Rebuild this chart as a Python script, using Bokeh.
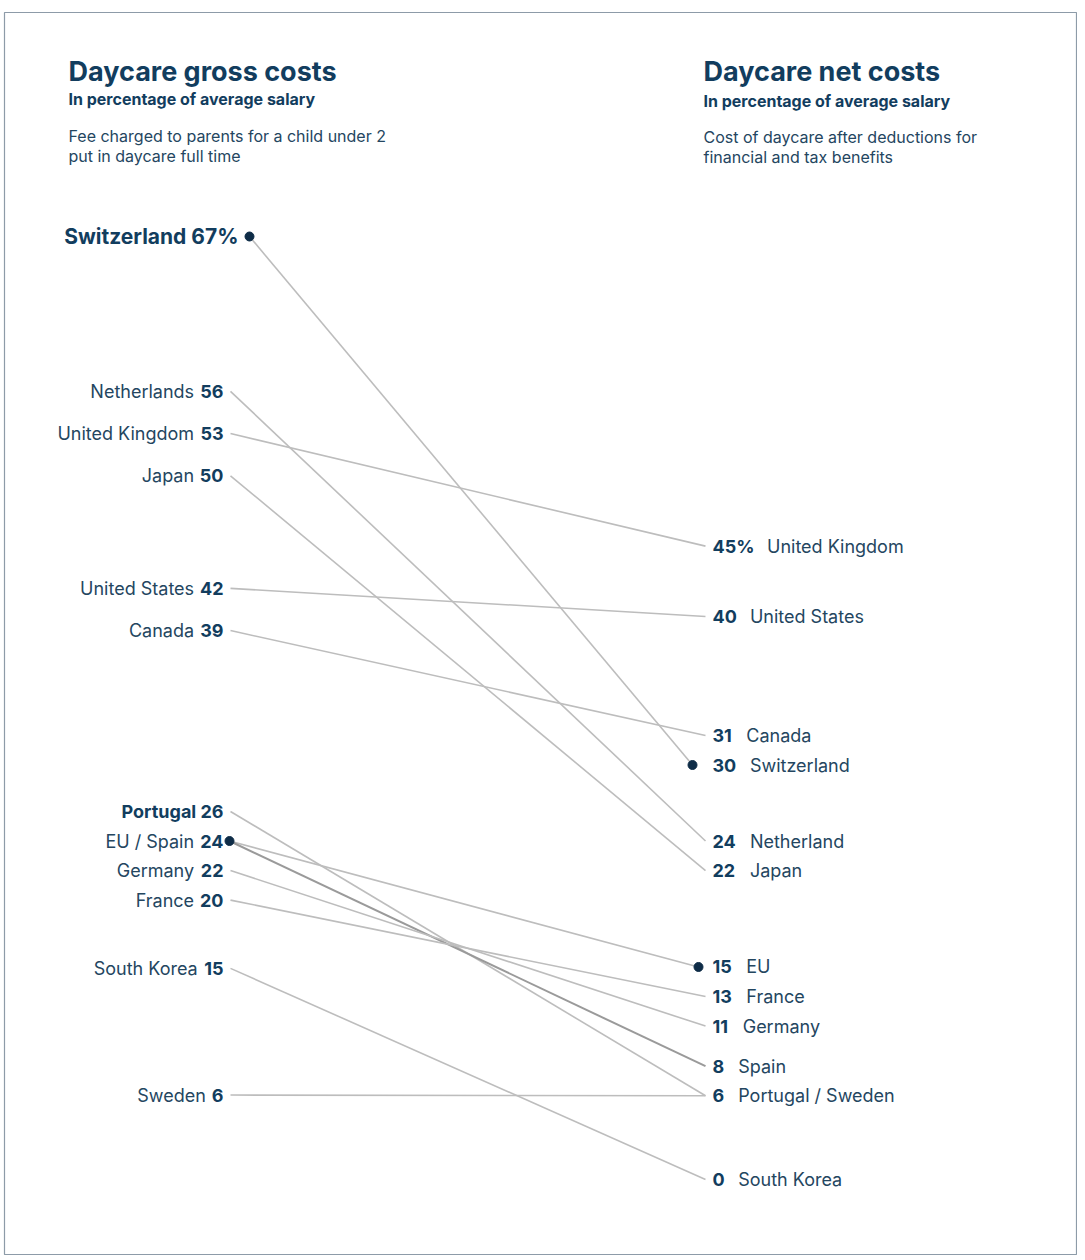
from bokeh.plotting import figure
from bokeh.models import Range1d
from bokeh.embed import file_html
from bokeh.resources import INLINE
from bokeh.core.properties import value

# ---------------- data ----------------
countries = ["Switzerland", "Netherlands", "United Kingdom", "Japan", "United States",
             "Canada", "Portugal", "EU", "Spain", "Germany", "France", "South Korea", "Sweden"]
gross = [67, 56, 53, 50, 42, 39, 26, 24, 24, 22, 20, 15, 6]
net = [30, 24, 45, 22, 40, 31, 6, 15, 8, 11, 13, 0, 6]

left_names = ["Switzerland", "Netherlands", "United Kingdom", "Japan", "United States", "Canada",
              "Portugal", "EU / Spain", "Germany", "France", "South Korea", "Sweden"]
left_values = [67, 56, 53, 50, 42, 39, 26, 24, 22, 20, 15, 6]

right_names = ["United Kingdom", "United States", "Canada", "Switzerland", "Netherland", "Japan",
               "EU", "France", "Germany", "Spain", "Portugal / Sweden", "South Korea"]
right_values = [45, 40, 31, 30, 24, 22, 15, 13, 11, 8, 6, 0]

left_title = "Daycare gross costs"
right_title = "Daycare net costs"
subtitle = "In percentage of average salary"
left_desc = ["Fee charged to parents for a child under 2", "put in daycare full time"]
right_desc = ["Cost of daycare after deductions for", "financial and tax benefits"]

# ---------------- styles ----------------
FONT = value("Inter")
NAVY = "#123d5e"
TEXT = "#24465f"
LINE = "#bdbdbd"
DARK_LINE = "#9a9a9a"
DOT = "#0e2c47"

W, H = 1077, 1255
B_LEFT, B_TOP, B_RIGHT, B_BOTTOM = 4, 12, 1, 1
FRAME_W = W - B_LEFT - B_RIGHT
FRAME_H = H - B_TOP - B_BOTTOM
PX_PER_UNIT = 943 / 67.0
YTOP = 67 + (236 - B_TOP) / PX_PER_UNIT
YBOT = YTOP - FRAME_H / PX_PER_UNIT


def vy(py):
    """page pixel row -> value units (for header texts only)"""
    return YTOP - (py - B_TOP) / PX_PER_UNIT


def dodge(vals, gap):
    order = sorted(vals, reverse=True)
    ys = [float(v) for v in order]
    for _ in range(100):
        moved = False
        for i in range(len(ys) - 1):
            d = ys[i] - ys[i + 1]
            if d < gap - 1e-9:
                push = (gap - d) / 2
                ys[i] += push
                ys[i + 1] -= push
                moved = True
        if not moved:
            break
    return dict(zip(order, ys))


def bold_width(s, size):
    w = 0.0
    for c in s:
        if c == "1":
            w += 0.45
        elif c == "%":
            w += 0.95
        else:
            w += 0.65
    return w * size


left_pos = dodge(left_values, 2.1)
right_pos = dodge(right_values, 2.1)

p = figure(width=W, height=H, x_range=Range1d(B_LEFT, B_LEFT + FRAME_W), y_range=Range1d(YBOT, YTOP),
           x_axis_type=None, y_axis_type=None, toolbar_location=None,
           output_backend="svg", min_border_left=B_LEFT, min_border_right=B_RIGHT,
           min_border_top=B_TOP, min_border_bottom=B_BOTTOM)
p.outline_line_color = "#8d9ba8"
p.outline_line_width = 1.2
p.background_fill_color = "white"
p.border_fill_color = "white"

# ---------------- lines ----------------
LX, RX = 230, 705
x0, y0, x1, y1, col, lw = [], [], [], [], [], []
for c, g, n in zip(countries, gross, net):
    sx, ex = LX, RX
    if c == "Switzerland":
        sx, ex = 249, 692
    if c in ("EU", "Spain"):
        sx = 229
    if c == "EU":
        ex = 698
    x0.append(sx); y0.append(left_pos[g]); x1.append(ex); y1.append(right_pos[n])
    col.append(DARK_LINE if c == "Spain" else LINE)
    lw.append(2.0 if c == "Spain" else 1.6)
p.segment(x0=x0, y0=y0, x1=x1, y1=y1, line_color=col, line_width=lw)

# dots
dot_x, dot_y = [], []
for c, g, n in zip(countries, gross, net):
    if c == "Switzerland":
        dot_x += [249, 692]; dot_y += [left_pos[g], right_pos[n]]
    if c == "EU":
        dot_x += [229, 698]; dot_y += [left_pos[g], right_pos[n]]
p.scatter(x=dot_x, y=dot_y, size=9, fill_color=DOT, line_color=DOT)

# ---------------- left labels ----------------
VAL_R = 223
LSIZE = 18
nm_x, nm_y, nm_t = [], [], []
vl_x, vl_y, vl_t = [], [], []
for i, (nm, v) in enumerate(zip(left_names, left_values)):
    y = left_pos[v]
    vt = f"{v}%" if i == 0 else f"{v}"
    if i == 0:
        p.text(x=[238], y=[y], text=[f"{nm} {vt}"], text_font=FONT, text_font_size="21px",
               text_font_style="bold", text_color=NAVY, text_align="right", text_baseline="middle")
        continue
    if nm == "Portugal":
        p.text(x=[VAL_R], y=[y], text=[f"{nm} {vt}"], text_font=FONT, text_font_size=f"{LSIZE}px",
               text_font_style="bold", text_color=NAVY, text_align="right", text_baseline="middle")
        continue
    vl_x.append(VAL_R); vl_y.append(y); vl_t.append(vt)
    nm_x.append(VAL_R - bold_width(vt, LSIZE) - 6); nm_y.append(y); nm_t.append(nm)

p.text(x=vl_x, y=vl_y, text=vl_t, text_font=FONT, text_font_size=f"{LSIZE}px", text_font_style="bold",
       text_color=NAVY, text_align="right", text_baseline="middle")
p.text(x=nm_x, y=nm_y, text=nm_t, text_font=FONT, text_font_size=f"{LSIZE}px",
       text_color=TEXT, text_align="right", text_baseline="middle")

# ---------------- right labels ----------------
VAL_L = 712
rv_x, rv_y, rv_t, rn_x, rn_y, rn_t = [], [], [], [], [], []
for i, (nm, v) in enumerate(zip(right_names, right_values)):
    y = right_pos[v]
    vt = f"{v}%" if i == 0 else f"{v}"
    rv_x.append(VAL_L); rv_y.append(y); rv_t.append(vt)
    rn_x.append(VAL_L + bold_width(vt, LSIZE) + 14); rn_y.append(y); rn_t.append(nm)
p.text(x=rv_x, y=rv_y, text=rv_t, text_font=FONT, text_font_size=f"{LSIZE}px", text_font_style="bold",
       text_color=NAVY, text_align="left", text_baseline="middle")
p.text(x=rn_x, y=rn_y, text=rn_t, text_font=FONT, text_font_size=f"{LSIZE}px",
       text_color=TEXT, text_align="left", text_baseline="middle")

# ---------------- headers ----------------
for hx, title, desc, sub_py, d_py in [(68, left_title, left_desc, 98, (135, 155)),
                                       (703, right_title, right_desc, 100, (136, 156))]:
    p.text(x=[hx], y=[vy(71)], text=[title], text_font=FONT, text_font_size="27px",
           text_font_style="bold", text_color=NAVY, text_align="left", text_baseline="alphabetic")
    p.text(x=[hx], y=[vy(sub_py)], text=[subtitle], text_font=FONT, text_font_size="16px",
           text_font_style="bold", text_color=NAVY, text_align="left", text_baseline="alphabetic")
    p.text(x=[hx, hx], y=[vy(d_py[0]), vy(d_py[1])], text=desc, text_font=FONT, text_font_size="16px",
           text_color=TEXT, text_align="left", text_baseline="alphabetic")

open("out.html", "w").write(file_html(p, INLINE))
